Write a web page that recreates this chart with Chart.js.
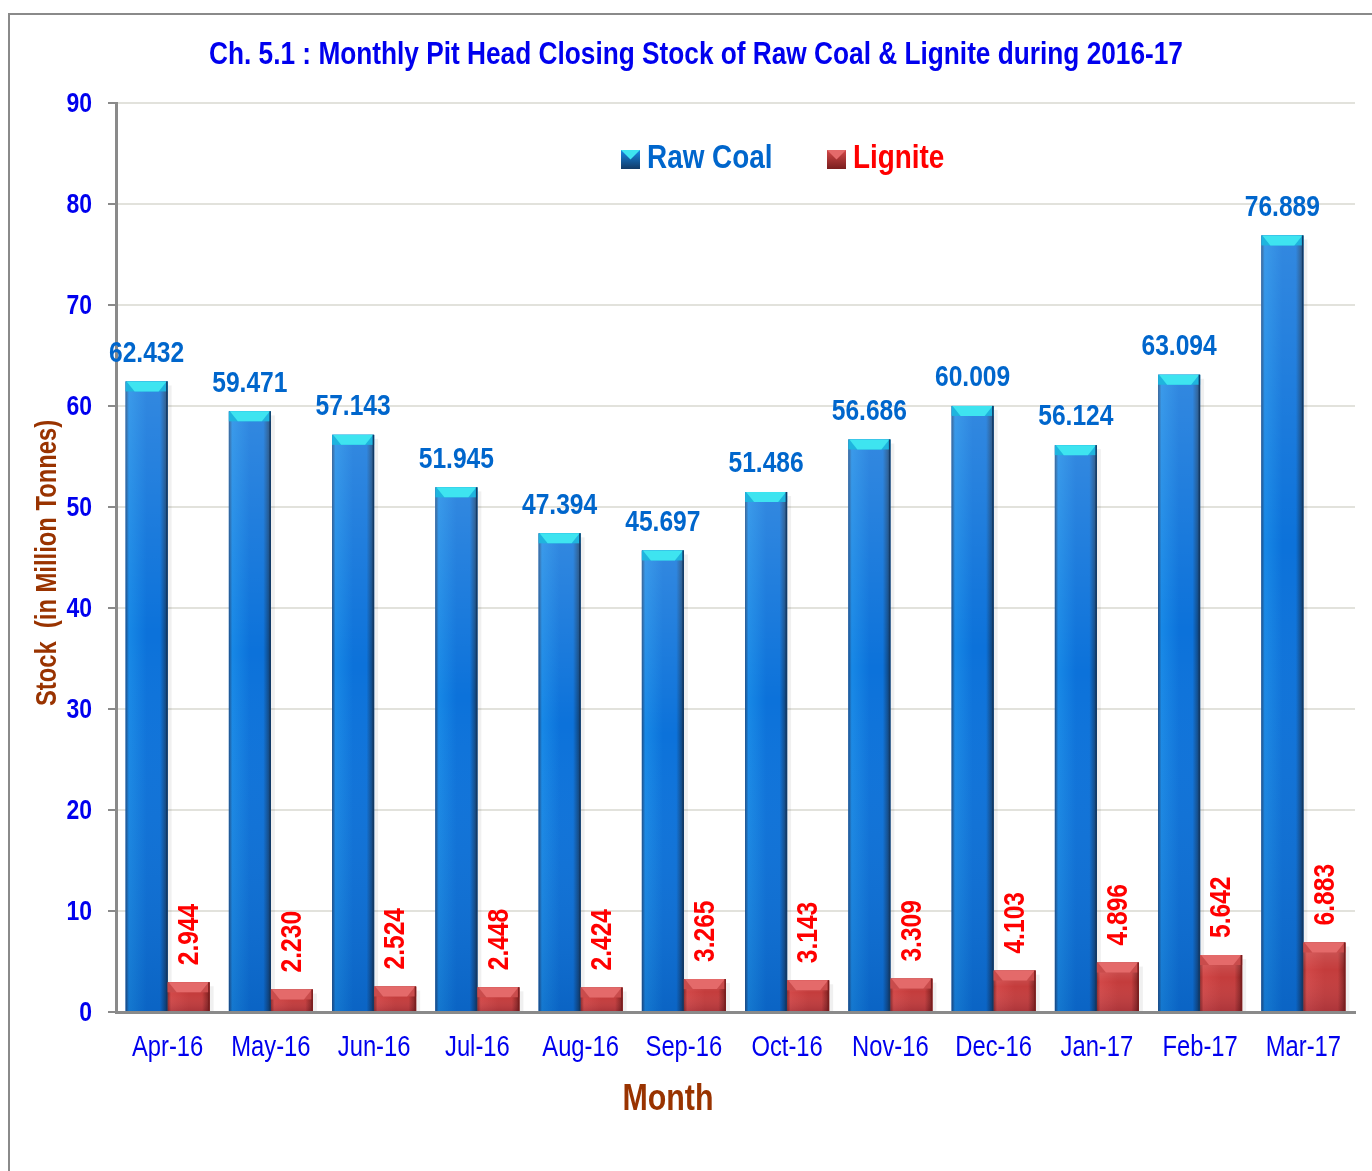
<!DOCTYPE html>
<html>
<head>
<meta charset="utf-8">
<title>Monthly Pit Head Closing Stock 2016-17</title>
<script src="https://cdn.jsdelivr.net/npm/chart.js@4/dist/chart.umd.min.js"></script>
<style>
  html, body { margin: 0; padding: 0; background: #fff; overflow: hidden; }
  #wrap { position: relative; width: 1372px; height: 1171px; }
  #frame { position: absolute; left: 8px; top: 13px; width: 1400px; height: 1200px;
           border: 2px solid #8a8a8a; box-sizing: border-box; }
  canvas { position: absolute; left: 0; top: 0; }
</style>
</head>
<body>
<div id="wrap">
  <div id="frame"></div>
  <canvas id="c" width="1372" height="1171"></canvas>
</div>
<script>
const months = ['Apr-16', 'May-16', 'Jun-16', 'Jul-16', 'Aug-16', 'Sep-16',
                'Oct-16', 'Nov-16', 'Dec-16', 'Jan-17', 'Feb-17', 'Mar-17'];
const rawCoal = [62.432, 59.471, 57.143, 51.945, 47.394, 45.697,
                 51.486, 56.686, 60.009, 56.124, 63.094, 76.889];
const lignite = [2.944, 2.230, 2.524, 2.448, 2.424, 3.265,
                 3.143, 3.309, 4.103, 4.896, 5.642, 6.883];
const yMin = 0, yMax = 90, yStep = 10;

const FONT = '"Liberation Sans", Arial, sans-serif';
const NARROW = 0.82;   // horizontal squeeze giving a narrow face
const TITLE = 'Ch. 5.1 : Monthly Pit Head Closing Stock of Raw Coal & Lignite during 2016-17';
const BROWN = '#993300';
const TICK_BLUE = '#0000ee';

// Draw condensed text at (x, y); rot in radians
function narrowText(ctx, text, x, y, font, color, align, rot) {
  ctx.save();
  ctx.translate(x, y);
  if (rot) ctx.rotate(rot);
  ctx.scale(NARROW, 1);
  ctx.font = font;
  ctx.fillStyle = color;
  ctx.textAlign = align || 'center';
  ctx.textBaseline = 'middle';
  ctx.fillText(text, 0, 0);
  ctx.restore();
}

// Colour sets for the shaded bars
const palettes = [
  { edgeL: '#1d4d86', light: '#1788e6', mid: '#0c72da', edgeR: '#123a66',
    cap: '#3ee4f0', capSide: '#1fb4de', label: '#0066cc' },
  { edgeL: '#8e2a2a', light: '#d24848', mid: '#c43c3c', edgeR: '#7a1e1e',
    cap: '#e46a6a', capSide: '#c94c4c', label: '#ff0000' }
];

// Paint the shaded bars over the library's bars
const shadedBars = {
  id: 'shadedBars',
  afterDatasetsDraw(chart) {
    const ctx = chart.ctx;
    chart.data.datasets.forEach((ds, di) => {
      const meta = chart.getDatasetMeta(di);
      const p = palettes[di];
      meta.data.forEach((bar) => {
        const { x, y, base, width } = bar.getProps(['x', 'y', 'base', 'width'], true);
        const l = x - width / 2, r = x + width / 2, h = base - y;
        ctx.save();
        ctx.fillStyle = 'rgba(0,0,0,0.06)';
        ctx.fillRect(r, y + 4, 4, h - 4);
        const g = ctx.createLinearGradient(l, 0, r, 0);
        g.addColorStop(0, p.edgeL);
        g.addColorStop(0.08, p.light);
        g.addColorStop(0.5, p.mid);
        g.addColorStop(0.82, p.mid);
        g.addColorStop(1, p.edgeR);
        ctx.fillStyle = g;
        ctx.fillRect(l, y, width, h);
        const v = ctx.createLinearGradient(0, y, 0, base);
        v.addColorStop(0, 'rgba(255,255,255,0.16)');
        v.addColorStop(0.4, 'rgba(255,255,255,0.0)');
        v.addColorStop(1, 'rgba(0,0,40,0.12)');
        ctx.fillStyle = v;
        ctx.fillRect(l, y, width, h);
        const bev = Math.min(10, h / 2);
        const ins = 9;
        ctx.fillStyle = p.capSide;
        ctx.fillRect(l, y, width, bev);
        ctx.fillStyle = p.cap;
        ctx.beginPath();
        ctx.moveTo(l + 1, y); ctx.lineTo(r - 1, y);
        ctx.lineTo(r - ins, y + bev); ctx.lineTo(l + ins, y + bev);
        ctx.closePath(); ctx.fill();
        ctx.fillStyle = p.edgeR;
        ctx.fillRect(r - 1.5, y, 1.5, h);
        ctx.restore();
      });
    });
  }
};

// Value labels above each bar
const valueLabels = {
  id: 'valueLabels',
  afterDatasetsDraw(chart) {
    const ctx = chart.ctx;
    const font = 'bold 30px ' + FONT;
    chart.data.datasets.forEach((ds, di) => {
      const meta = chart.getDatasetMeta(di);
      meta.data.forEach((bar, i) => {
        const { x, y } = bar.getProps(['x', 'y'], true);
        const txt = ds.data[i].toFixed(3);
        if (di === 0) {
          narrowText(ctx, txt, x, y - 28, font, palettes[0].label, 'center');
        } else {
          narrowText(ctx, txt, x + 1, y - 17, font, palettes[1].label, 'left', -Math.PI / 2);
        }
      });
    });
  }
};

// Tick labels drawn at the scales' own tick positions
const tickLabels = {
  id: 'tickLabels',
  afterDraw(chart) {
    const ctx = chart.ctx;
    const xs = chart.scales.x, ys = chart.scales.y;
    xs.ticks.forEach((t, i) => {
      narrowText(ctx, chart.data.labels[i], xs.getPixelForTick(i), 1048,
                 '29px ' + FONT, TICK_BLUE, 'center');
    });
    ys.ticks.forEach((t) => {
      narrowText(ctx, String(t.value), 92, ys.getPixelForValue(t.value) + 1,
                 'bold 28px ' + FONT, TICK_BLUE, 'right');
    });
  }
};

// Heading, legend and axis titles
const decorations = {
  id: 'decorations',
  afterDraw(chart) {
    const ctx = chart.ctx;
    narrowText(ctx, TITLE, 696, 55, 'bold 32px ' + FONT, '#0000ee', 'center');

    const items = [
      { text: 'Raw Coal', x: 621, color: '#0066cc', p: palettes[0] },
      { text: 'Lignite', x: 827, color: '#ff0000', p: palettes[1] }
    ];
    items.forEach((it) => {
      const s = 19, bx = it.x, by = 150;
      ctx.save();
      const g = ctx.createLinearGradient(bx, by, bx, by + s);
      g.addColorStop(0, it.p.light);
      g.addColorStop(1, it.p.edgeR);
      ctx.fillStyle = g;
      ctx.fillRect(bx, by, s, s);
      ctx.fillStyle = it.p.cap;
      ctx.beginPath();
      ctx.moveTo(bx, by); ctx.lineTo(bx + s, by); ctx.lineTo(bx + s / 2, by + s / 2);
      ctx.closePath(); ctx.fill();
      ctx.restore();
      narrowText(ctx, it.text, bx + s + 7, 159, 'bold 34px ' + FONT, it.color, 'left');
    });

    narrowText(ctx, 'Month', 668, 1100, 'bold 37px ' + FONT, BROWN, 'center');
    narrowText(ctx, 'Stock  (in Million Tonnes)', 48, 563, 'bold 29px ' + FONT, BROWN,
               'center', -Math.PI / 2);
  }
};

new Chart(document.getElementById('c'), {
  type: 'bar',
  data: {
    labels: months,
    datasets: [
      { label: 'Raw Coal', data: rawCoal, backgroundColor: '#0c72da' },
      { label: 'Lignite', data: lignite, backgroundColor: '#c43c3c' }
    ]
  },
  options: {
    responsive: false,
    animation: false,
    events: [],
    devicePixelRatio: 1,
    layout: { padding: { left: 0, top: 103, right: 17, bottom: 0 } },
    datasets: { bar: { categoryPercentage: 0.814, barPercentage: 1.0 } },
    plugins: { legend: { display: false }, title: { display: false }, tooltip: { enabled: false } },
    scales: {
      x: {
        afterFit(s) { s.height = 159; },
        grid: { display: false, drawTicks: false },
        border: { display: true, color: '#8a8a8a', width: 3 },
        ticks: { display: false }
      },
      y: {
        min: yMin, max: yMax,
        afterFit(s) { s.width = 116; },
        grid: { color: '#e2e2dc', lineWidth: 2, tickColor: '#8a8a8a', tickLength: 8 },
        border: { display: true, color: '#8a8a8a', width: 3 },
        ticks: { display: false, stepSize: yStep }
      }
    }
  },
  plugins: [shadedBars, valueLabels, tickLabels, decorations]
});
</script>
</body>
</html>
